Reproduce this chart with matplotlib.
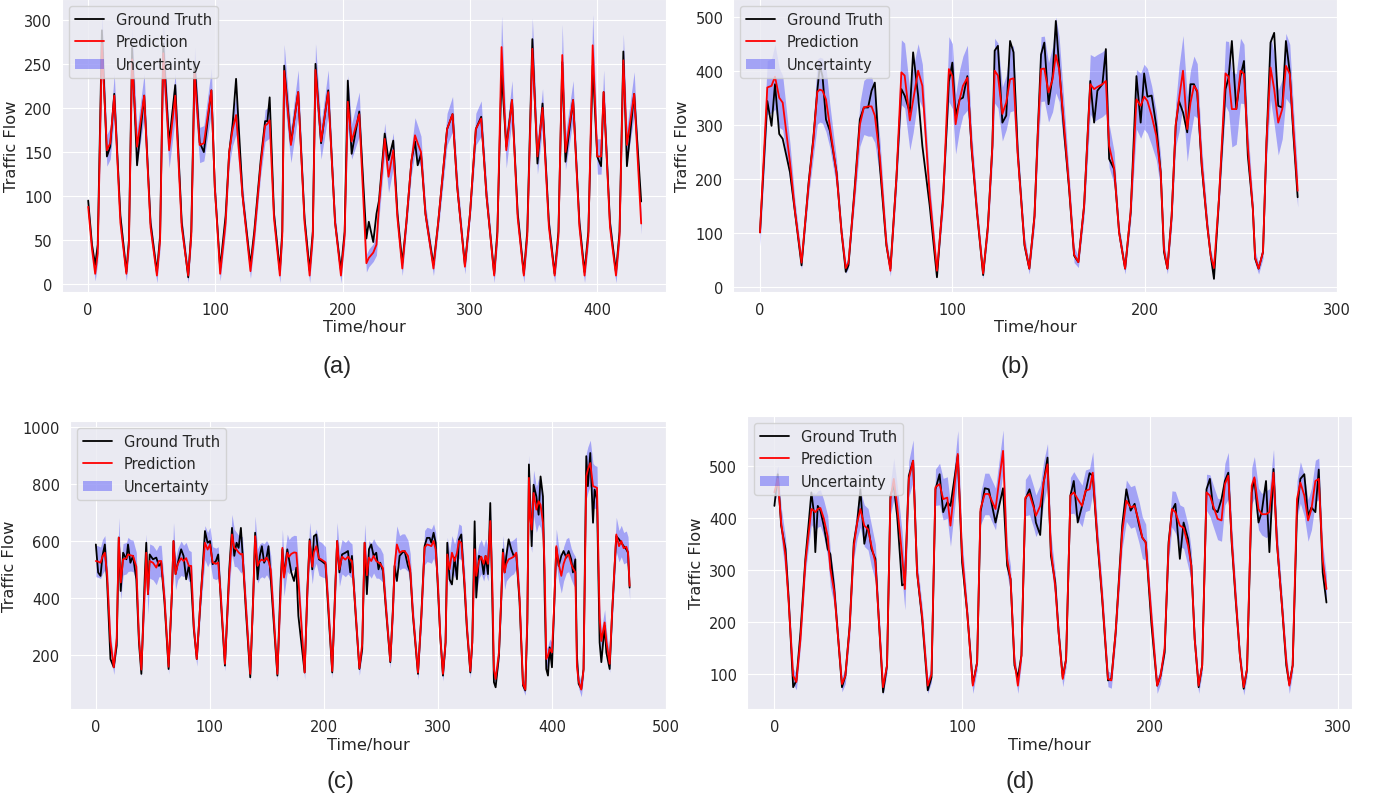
import numpy as np
import matplotlib
matplotlib.use("Agg")
import matplotlib.pyplot as plt
import seaborn as sns

# ---------------- panel (a) ----------------
a_hour = [0, 3, 5.5, 7.5, 10.8, 14.7, 17.3, 20.5, 25.3, 30,
          32, 34.5, 38.4, 44, 49, 54,
          56.5, 59, 63.6, 68.4, 73.5, 78.6,
          81, 83.6, 87.6, 90.9, 96.8, 99.5, 103.7,
          108, 110.8, 113.4, 116.2, 121.3, 127.5,
          130.5, 135.5, 139, 140.8, 142.6, 146, 150.6,
          152.5, 154, 159.3, 165, 170, 174,
          176.5, 178.6, 183, 188.6, 194, 198.6,
          201.5, 204, 207, 213, 218.6, 220.5, 224, 226.5,
          228.5, 233, 236, 239.7, 243, 246.8,
          250, 254, 256.8, 258.9, 261.5, 265, 271.3,
          275, 282, 286.3, 290, 296,
          300, 304.6, 308.8, 313, 319,
          321.5, 324.8, 328.5, 333, 337.5, 342.3,
          345, 349, 353, 357, 362, 366.5,
          369.5, 372.5, 375, 381, 386, 390,
          393, 396.4, 400, 403, 405, 410, 414.7,
          417.5, 420.5, 423.3, 429, 434.5]
a_truth = [95, 45, 22, 45, 288, 145, 156, 216, 78, 14,
           50, 268, 135, 214, 70, 14,
           55, 273, 160, 226, 70, 8,
           60, 252, 161, 150, 220, 110, 18,
           78, 150, 180, 233, 101, 22,
           60, 140, 185, 185, 212, 80, 16,
           60, 248, 160, 218, 75, 16,
           60, 250, 160, 220, 70, 16,
           60, 231, 148, 196, 52, 71, 48, 80,
           95, 171, 141, 163, 80, 24,
           70, 140, 162, 135, 148, 80, 22,
           70, 176, 193, 110, 22,
           80, 176, 190, 100, 12,
           60, 241, 156, 209, 80, 12,
           60, 278, 137, 205, 70, 12,
           60, 252, 139, 209, 70, 14,
           60, 248, 145, 134, 218, 70, 14,
           60, 264, 134, 216, 94]
a_pred = [88, 40, 12, 35, 273, 152, 160, 214, 70, 12,
          45, 255, 156, 214, 65, 10,
          50, 262, 152, 214, 65, 10,
          55, 239, 158, 160, 220, 110, 12,
          70, 150, 175, 192, 100, 15,
          55, 135, 180, 182, 186, 75, 10,
          55, 242, 158, 218, 70, 10,
          55, 243, 162, 218, 70, 10,
          55, 207, 162, 193, 24, 30, 36, 45,
          90, 165, 122, 152, 75, 18,
          70, 140, 169, 160, 150, 80, 18,
          70, 176, 193, 110, 20,
          80, 176, 188, 100, 10,
          55, 269, 152, 209, 75, 10,
          55, 267, 145, 200, 65, 10,
          55, 260, 150, 209, 65, 10,
          55, 271, 145, 145, 218, 65, 10,
          55, 254, 158, 216, 69]
a_unc = [10, 8, 8, 10, 35, 18, 18, 25, 12, 8,
         10, 35, 20, 25, 12, 8,
         10, 35, 20, 25, 12, 8,
         10, 30, 20, 20, 25, 15, 8,
         10, 15, 18, 22, 15, 8,
         10, 12, 18, 18, 20, 12, 8,
         10, 30, 20, 25, 12, 8,
         10, 30, 20, 25, 12, 8,
         10, 30, 20, 25, 10, 10, 10, 12,
         15, 18, 18, 20, 12, 8,
         10, 15, 20, 20, 18, 12, 8,
         10, 18, 20, 15, 8,
         10, 18, 20, 15, 8,
         10, 35, 20, 22, 12, 8,
         10, 35, 20, 22, 12, 8,
         10, 35, 20, 22, 12, 8,
         10, 35, 20, 20, 25, 12, 8,
         10, 30, 20, 25, 12]

# ---------------- panel (b) ----------------
b_hour = [0, 3.8, 6, 7.8, 10, 11.8, 15.6, 18.2, 21.6,
          25.3, 27.7, 29.8, 31.1, 32.5, 34.3, 36.3, 39.8, 42.4, 44.6,
          46, 49.3, 51.9, 54, 56.2, 58, 59.7, 62.3, 65.7, 67.8,
          70.9, 73.5, 75.2, 77.9, 79.6, 82.2, 84.4, 88.2, 92,
          95.2, 97.2, 98.2, 100, 101.7, 103.8, 105.5, 107.8, 110, 112.8, 116,
          118.5, 120.8, 122, 123.7, 126, 128, 130, 131.8, 134, 137.5, 140,
          142.7, 144.4, 146.1, 147.8, 150, 152.1, 153.8, 155.5, 158.1, 160.7, 163.3, 165.5,
          168.5, 171.7, 173.7, 175.4, 178, 179.8, 181.5, 184.1, 186.7, 189.8,
          192.7, 195.7, 197.9, 199.7, 201.4, 203.6, 206, 208.3, 210, 211.8,
          214, 216.1, 217.8, 219.9, 222.1, 223.8, 225.6, 227.3, 229.6, 232.5, 234.3, 236,
          238.6, 242, 243.6, 245.3, 247.6, 249.8, 251.6, 253.6, 256.2, 257.4, 259.2,
          261.5, 263.3, 265.4, 267.3, 269.4, 271.5, 273.4, 275.4, 277.2, 279.5]
b_truth = [101, 344, 298, 375, 283, 274, 212, 138, 40,
           194, 274, 363, 409, 390, 310, 289, 212, 101, 28,
           40, 187, 310, 332, 332, 363, 378, 224, 77, 34,
           200, 366, 354, 323, 434, 354, 261, 151, 18,
           169, 304, 380, 415, 317, 347, 350, 390, 255, 138, 22,
           114, 261, 437, 446, 304, 317, 455, 434, 249, 77, 34,
           132, 286, 430, 452, 338, 390, 492, 409, 286, 181, 58, 46,
           151, 381, 304, 363, 375, 440, 237, 218, 101, 34,
           138, 390, 304, 395, 352, 354, 298, 212, 65, 34,
           132, 298, 344, 323, 286, 375, 375, 360, 224, 114, 58, 15,
           163, 366, 387, 455, 329, 390, 418, 243, 145, 52, 34,
           65, 268, 452, 470, 335, 332, 455, 397, 286, 166]
b_pred = [101, 369, 372, 389, 350, 341, 230, 140, 45,
          190, 270, 361, 365, 363, 347, 298, 210, 101, 35,
          45, 180, 300, 332, 334, 334, 317, 240, 80, 30,
          200, 397, 391, 308, 345, 400, 372, 170, 30,
          160, 330, 403, 390, 301, 347, 372, 387, 260, 140, 25,
          110, 260, 400, 391, 320, 341, 384, 386, 243, 80, 34,
          130, 280, 403, 404, 360, 384, 429, 403, 298, 185, 60, 46,
          150, 375, 366, 370, 375, 381, 261, 220, 100, 34,
          140, 347, 335, 352, 344, 317, 280, 212, 70, 34,
          130, 300, 347, 400, 292, 341, 372, 363, 230, 114, 58, 35,
          163, 395, 389, 329, 329, 400, 394, 260, 145, 55, 34,
          65, 268, 406, 366, 304, 329, 409, 394, 298, 178]
b_unc = [25, 50, 50, 60, 55, 50, 35, 20, 12,
         20, 30, 60, 60, 60, 60, 40, 25, 15, 10,
         10, 20, 40, 50, 55, 55, 50, 35, 15, 10,
         25, 60, 60, 55, 60, 50, 40, 25, 10,
         20, 40, 60, 60, 55, 55, 55, 60, 30, 20, 10,
         15, 30, 60, 60, 50, 50, 60, 60, 30, 15, 10,
         20, 35, 60, 60, 55, 60, 70, 60, 40, 25, 15, 10,
         20, 55, 60, 60, 60, 60, 40, 30, 15, 10,
         20, 55, 60, 60, 60, 55, 45, 30, 15, 10,
         20, 40, 60, 65, 60, 60, 55, 50, 30, 20, 12, 10,
         20, 60, 65, 70, 65, 60, 55, 35, 20, 12, 10,
         12, 35, 60, 65, 60, 55, 60, 55, 40, 30]

# ---------------- panel (c) ----------------
c_hour = [0, 2, 4.1, 5.8, 7.9, 9.9, 12.8, 15.7,
          18.3, 20.1, 21.8, 23.9, 26.8, 28.2, 30.3, 32.6, 35.5, 37.8, 39.9,
          42.8, 44.2, 45.7, 47.2, 50.1, 53, 55.3, 57.3, 60.2, 63.8,
          66.7, 68.1, 69.9, 71.9, 74.8, 76.9, 79.2, 81.5, 83.6, 85.9, 88.5,
          92.2, 95.7, 98, 100.1, 102.4, 105.3, 107.3, 109.7, 113.2,
          117, 119.4, 121.4, 123.4, 125.2, 127.2, 128.6, 131.5, 135.4,
          138, 139.7, 141.8, 143.8, 145.6, 147.6, 149.7, 151.4, 153.4, 156.3, 159.2,
          162.1, 163.6, 165, 167.9, 169.4, 171.4, 173.8, 175.8, 177.6, 183.1,
          185.5, 187.5, 189.8, 191.2, 193.3, 195.6, 197.9, 201.4, 203.8, 207.3,
          210.2, 211.6, 213.6, 215.9, 218.8, 221.1, 223.1, 224.6, 227.5, 231.1,
          233.6, 235.7, 237.7, 239.5, 241.5, 243.6, 245.9, 247.9, 249.4, 251.8, 254.4, 258.2,
          260.5, 262, 264, 266.4, 268.7, 270.8, 273.7, 275.7, 278.1, 282.5,
          285.4, 288.3, 290.4, 292.7, 294.2, 296.2, 298, 300, 302, 304.4,
          306.7, 308.2, 310.2, 312.3, 314.6, 316.7, 318.4, 320.5, 323.4, 325.4, 328.4,
          330.1, 332.2, 333.6, 336, 338, 340.1, 341.8, 343.9, 345.9, 347.7, 349.1, 350.6,
          353.5, 355.6, 357, 358.5, 360, 362, 364.3, 366.4, 368.7, 371.6, 374.6, 376.6,
          378.4, 379.8, 381, 382.2, 383.9, 386.3, 388.3, 390, 392.1, 393.6, 395, 396.5,
          398, 400, 401.8, 403.8,
          405.9, 408.2, 410.2, 412.6, 414.6, 416.9, 418.4, 420.5, 421.9, 423.4, 425.7, 427.7,
          430.1, 431.5, 433.6, 436, 437.4, 439.5, 441.8, 443.3, 446.2, 447.7, 450.6,
          452.9, 456.4, 458.8, 460.8, 462.9, 465.2, 466.7, 468.1]
c_truth = [588, 490, 478, 548, 588, 455, 187, 158,
           234, 612, 425, 559, 536, 588, 524, 548, 466, 245, 135,
           466, 594, 414, 553, 536, 542, 513, 524, 385, 152,
           420, 600, 484, 524, 571, 548, 466, 513, 455, 292, 187,
           420, 635, 594, 600, 519, 530, 553, 385, 164,
           501, 646, 548, 594, 576, 646, 559, 361, 123,
           408, 629, 466, 548, 582, 524, 542, 582, 466, 303, 129,
           466, 571, 478, 571, 536, 490, 460, 507, 338, 140,
           431, 606, 501, 617, 623, 536, 530, 519, 361, 140,
           466, 600, 490, 553, 559, 565, 490, 548, 361, 152,
           222, 594, 414, 571, 588, 548, 559, 501, 524, 495, 361, 176,
           361, 513, 460, 548, 559, 565, 513, 490, 338, 135,
           338, 582, 611, 611, 594, 629, 594, 431, 268, 129,
           245, 594, 466, 448, 542, 466, 605, 623, 431, 292, 140,
           245, 669, 402, 548, 542, 484, 548, 484, 733, 396, 106, 88,
           199, 408, 571, 490, 548, 606, 571, 548, 553, 385, 94, 77,
           315, 868, 722, 582, 797, 756, 692, 826, 756, 408, 152, 129,
           228, 158, 361, 577,
           513, 548, 565, 542, 565, 536, 490, 536, 199, 100, 83, 152,
           897, 792, 908, 664, 780, 745, 245, 176, 303, 210, 152,
           361, 617, 606, 594, 582, 571, 559, 437]
c_pred = [530, 528, 524, 545, 559, 480, 250, 158,
          260, 612, 455, 536, 540, 553, 550, 548, 510, 260, 150,
          420, 559, 414, 530, 524, 507, 530, 530, 400, 160,
          420, 600, 484, 520, 540, 530, 540, 513, 513, 300, 187,
          420, 594, 570, 588, 525, 520, 525, 400, 170,
          480, 623, 576, 570, 560, 553, 555, 380, 135,
          400, 617, 513, 530, 535, 530, 542, 530, 500, 320, 135,
          430, 576, 472, 559, 545, 555, 560, 559, 466, 140,
          420, 600, 510, 560, 582, 540, 535, 525, 380, 145,
          450, 600, 501, 545, 535, 545, 535, 530, 370, 155,
          240, 594, 480, 542, 530, 548, 530, 525, 520, 505, 370, 180,
          350, 513, 588, 559, 565, 565, 548, 501, 345, 140,
          330, 577, 588, 585, 582, 600, 570, 450, 270, 135,
          245, 553, 501, 559, 530, 559, 600, 594, 450, 300, 145,
          245, 571, 478, 530, 545, 520, 548, 520, 670, 450, 150, 117,
          210, 408, 559, 490, 520, 536, 540, 545, 559, 400, 100, 80,
          330, 821, 680, 640, 768, 710, 739, 727, 664, 500, 187, 199,
          222, 210, 361, 582,
          520, 478, 520, 548, 553, 520, 505, 490, 160, 110, 80, 150,
          827, 850, 873, 792, 790, 786, 330, 250, 315, 250, 170,
          361, 623, 582, 600, 575, 580, 560, 443]
c_unc = [55, 55, 55, 60, 60, 50, 30, 25,
         30, 70, 60, 55, 55, 60, 55, 55, 50, 30, 25,
         50, 65, 70, 60, 60, 60, 55, 55, 40, 25,
         45, 65, 55, 55, 60, 55, 55, 55, 50, 35, 25,
         45, 60, 60, 60, 55, 55, 55, 40, 25,
         50, 70, 65, 60, 60, 65, 60, 40, 25,
         45, 70, 60, 60, 60, 60, 60, 60, 50, 35, 25,
         50, 65, 65, 65, 60, 60, 60, 60, 50, 25,
         50, 65, 60, 60, 60, 60, 60, 55, 40, 25,
         50, 65, 60, 60, 60, 60, 60, 60, 40, 25,
         30, 65, 60, 60, 60, 60, 60, 55, 55, 50, 40, 25,
         40, 60, 65, 60, 60, 60, 55, 55, 40, 25,
         40, 60, 60, 60, 60, 60, 60, 50, 35, 25,
         30, 60, 60, 60, 60, 60, 60, 60, 50, 35, 25,
         30, 70, 65, 60, 60, 60, 60, 60, 70, 50, 25, 20,
         30, 50, 60, 60, 60, 65, 60, 60, 55, 40, 20, 20,
         45, 80, 80, 80, 80, 80, 80, 80, 70, 50, 35, 35,
         35, 35, 45, 60,
         60, 60, 60, 60, 60, 55, 55, 55, 35, 25, 25, 30,
         80, 80, 80, 80, 75, 75, 50, 40, 45, 40, 30,
         45, 60, 55, 55, 55, 55, 55, 50]

# ---------------- panel (d) ----------------
d_hour = [0, 1.8, 3.6, 5.9, 7.6, 10, 11.7, 13.9, 16.5, 18.3, 19.7, 21, 21.8, 23.1, 24.5,
          26.3, 28.4, 29.8, 31.9, 33.7, 36, 37.8, 40.1, 42.3, 44.1, 45.8, 47.9, 49.9,
          51.7, 53.8, 55.6, 57.9, 60, 61.8, 63.6, 65.4, 68, 69.5, 71.6, 73.9, 76, 78.7,
          81.7, 83.7, 85.8, 88, 89.9, 92.1, 93.8, 97.7, 100, 102.7, 105.7, 108, 109.8,
          112.1, 114.2, 117.8, 121.8, 124, 125.8, 127.9, 129.7, 131.6, 133.7, 135.9,
          138.2, 139.3, 141.6, 143.4, 145.5, 147.3, 149.6, 151.4, 153.6, 155.4, 157.7,
          159.5, 161.6, 163.9, 165.7, 167.9, 169.6, 172, 174.6, 177.7, 179.5, 181.8,
          185.3, 187.5, 189.8, 191.9, 194.3, 196, 197.8, 200.9, 203.9, 205.7, 207.9,
          210, 211.8, 213.6, 216, 218, 220.4, 222.1, 223.9, 226, 227.9, 230.2, 232,
          233.8, 236.1, 238.2, 240, 241.8, 243.6, 245.7, 248, 250, 251.8, 254.3, 255.7,
          257.9, 259.6, 261.9, 263.7, 265.9, 267.7, 270.4, 272.7, 274.3, 276.1, 278.4,
          280.2, 282.3, 284.3, 286.1, 288.2, 290, 292.1, 294.1]
d_truth = [424, 485, 386, 341, 245, 75, 88, 181, 322, 392, 450, 412, 335, 424, 415,
           386, 341, 331, 264, 181, 75, 97, 194, 354, 392, 456, 351, 387,
           341, 322, 206, 65, 117, 444, 463, 405, 271, 274, 482, 511, 296, 206,
           69, 94, 456, 485, 412, 431, 424, 521, 315, 219, 81, 123, 412,
           458, 456, 392, 458, 309, 283, 117, 94, 136, 437, 456,
           424, 392, 368, 469, 517, 328, 277, 181, 94, 129, 444,
           472, 392, 424, 450, 487, 482, 360, 245, 88, 91, 181,
           386, 456, 415, 428, 386, 363, 354, 194, 78, 97, 142,
           354, 415, 428, 322, 392, 360, 309, 168, 75, 117, 456, 476,
           418, 412, 437, 472, 488, 354, 245, 136, 72, 110, 450, 476,
           392, 412, 472, 335, 495, 354, 232, 117, 81, 117, 412,
           476, 485, 405, 421, 412, 494, 296, 238]
d_pred = [450, 476, 392, 328, 238, 97, 85, 168, 315, 373, 418, 415, 412, 418, 420,
          400, 365, 303, 258, 181, 81, 97, 190, 347, 392, 418, 386, 379,
          347, 315, 206, 75, 117, 437, 476, 424, 330, 264, 476, 511, 296, 212,
          78, 100, 460, 466, 437, 440, 386, 524, 330, 219, 78, 123, 418,
          447, 447, 418, 530, 322, 283, 125, 78, 136, 440, 447,
          420, 405, 424, 469, 504, 340, 270, 181, 91, 129, 444,
          450, 437, 424, 453, 456, 488, 365, 250, 91, 88, 181,
          373, 434, 421, 424, 392, 363, 354, 210, 78, 97, 150,
          347, 418, 412, 386, 382, 347, 309, 168, 78, 117, 450, 444,
          424, 399, 396, 466, 482, 360, 250, 136, 75, 110, 463, 479,
          418, 408, 408, 412, 488, 354, 232, 125, 78, 117, 437,
          469, 444, 396, 418, 472, 476, 320, 264]
d_unc = [20, 25, 30, 35, 25, 15, 15, 15, 20, 25, 30, 35, 35, 35, 35,
         35, 40, 35, 25, 20, 15, 15, 20, 25, 30, 35, 40, 40,
         40, 35, 25, 15, 15, 30, 40, 40, 45, 40, 35, 40, 25, 20,
         15, 15, 35, 40, 40, 40, 40, 45, 30, 20, 15, 15, 30,
         40, 40, 40, 40, 30, 25, 15, 15, 15, 35, 40,
         40, 40, 40, 40, 40, 30, 25, 20, 15, 15, 35,
         40, 40, 40, 40, 40, 40, 30, 25, 15, 15, 20,
         30, 40, 40, 40, 40, 40, 35, 20, 15, 15, 15,
         30, 35, 40, 40, 40, 40, 30, 20, 15, 15, 35, 40,
         40, 40, 40, 40, 45, 30, 25, 15, 15, 15, 35, 40,
         40, 40, 45, 45, 45, 35, 25, 15, 15, 15, 35,
         40, 40, 40, 40, 40, 40, 30, 25]

# ---------------- layout / styling ----------------
panels = [
    (a_hour, a_truth, a_pred, a_unc, [0.0449, 0.6356, 0.4377, 0.3644],
     (-20.6, 454), (-8.6, 323.5), np.arange(0, 401, 100), np.arange(0, 301, 50), "(a)", (337, 367)),
    (b_hour, b_truth, b_pred, b_unc, [0.5312, 0.6356, 0.4377, 0.3644],
     (-14, 300), (-9.2, 532.6), np.arange(0, 301, 100), np.arange(0, 501, 100), "(b)", (1015, 367)),
    (c_hour, c_truth, c_pred, c_unc, [0.0507, 0.1169, 0.4319, 0.3582],
     (-22.7, 497.5), (12, 1020), np.arange(0, 501, 100), np.arange(200, 1001, 200), "(c)", (340, 782)),
    (d_hour, d_truth, d_pred, d_unc, [0.5413, 0.1169, 0.4384, 0.3644],
     (-14.6, 307.7), (33, 597), np.arange(0, 301, 100), np.arange(100, 501, 100), "(d)", (1020, 782)),
]

sns.set_style("darkgrid")
plt.rcParams['font.family'] = ['DejaVu Sans']

W, H = 1380, 804
fig = plt.figure(figsize=(W / 100, H / 100), dpi=100)

for hour, truth, pred, unc, rect, xl, yl, xt, yt, cap, cpos in panels:
    ax = fig.add_axes(rect)
    x = np.array(hour, dtype=float)
    p = np.array(pred, dtype=float)
    u = np.array(unc, dtype=float)
    band = ax.fill_between(x, p - u, p + u, color='blue', alpha=0.3, linewidth=0,
                           label='Uncertainty')
    l1, = ax.plot(x, truth, color='black', linewidth=1.3, label='Ground Truth')
    l2, = ax.plot(x, p, color='red', linewidth=1.3, label='Prediction')
    ax.set_xlim(*xl)
    ax.set_ylim(*yl)
    ax.set_xticks(xt)
    ax.set_yticks(yt)
    ax.tick_params(labelsize=10.5)
    ax.set_xlabel('Time/hour', fontsize=11.7, labelpad=2)
    ax.set_ylabel('Traffic Flow', fontsize=11.7)
    ax.legend(handles=[l1, l2, band], loc='upper left', fontsize=10.5)
    fig.text(cpos[0] / W, 1 - cpos[1] / H, cap, ha='center', va='center',
             fontsize=17, family=['Liberation Sans', 'DejaVu Sans'])

fig.savefig('out.png', dpi=100)
